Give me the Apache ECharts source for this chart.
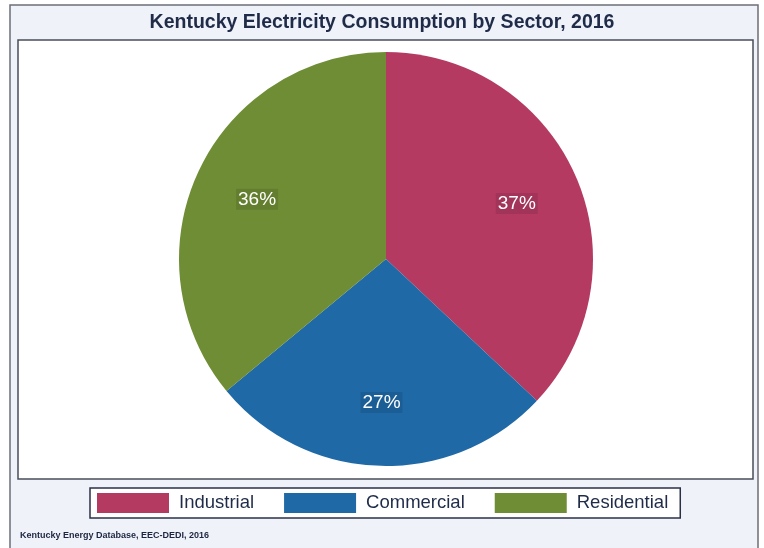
<!DOCTYPE html>
<html><head><meta charset="utf-8">
<script src="https://cdn.jsdelivr.net/npm/echarts@6/dist/echarts.min.js"></script>
<style>html,body{margin:0;padding:0;background:#fff}#c{width:764px;height:548px}</style>
</head><body><div id="c"></div>
<script>
const categories = ['Industrial', 'Commercial', 'Residential'];
const shares = [37, 27, 36];
const colors = ['#B43A62', '#1F69A6', '#6F8D35'];
const titleText = 'Kentucky Electricity Consumption by Sector, 2016';
const sourceText = 'Kentucky Energy Database, EEC-DEDI, 2016';

const chart = echarts.init(document.getElementById('c'), null, {renderer: 'canvas'});
const pieData = categories.map((n, i) => ({name: n, value: shares[i], itemStyle: {color: colors[i]}}));
chart.setOption({
  animation: false,
  backgroundColor: '#ffffff',
  graphic: [
    {type: 'rect', z: -10, shape: {x: 10, y: 5, width: 748, height: 550}, style: {fill: '#EFF3F9', stroke: '#6d6f78', lineWidth: 1.5}},
    {type: 'rect', z: -9, shape: {x: 18, y: 40, width: 735, height: 439}, style: {fill: '#ffffff', stroke: '#4a4d58', lineWidth: 1.5}},
    {type: 'text', left: 20, top: 531, style: {text: sourceText, font: 'bold 9px "Liberation Sans", Arial, sans-serif', fill: '#1d2540'}}
  ],
  title: {
    text: titleText, left: 'center', top: 8,
    textStyle: {fontFamily: '"Liberation Sans", Arial, sans-serif', fontSize: 19.5, fontWeight: 'bold', color: '#1f2b48'}
  },
  legend: {
    data: categories, left: 90, top: 488,
    orient: 'horizontal', itemWidth: 72, itemHeight: 20, itemGap: 30,
    padding: [5, 12, 5, 7], borderColor: '#2b3047', borderWidth: 1.5, backgroundColor: '#ffffff',
    icon: 'rect',
    textStyle: {fontFamily: '"Liberation Sans", Arial, sans-serif', fontSize: 18.5, color: '#1f2b48', padding: [0, 0, 0, 5]}
  },
  series: [
    {
      type: 'pie', center: [386, 259], radius: [0, 207], startAngle: 90, clockwise: true,
      label: {show: false}, labelLine: {show: false}, emphasis: {disabled: true},
      data: pieData
    },
    {
      type: 'pie', center: [386, 260], radius: [72, 207], startAngle: 90, clockwise: true, silent: true,
      itemStyle: {color: 'rgba(0,0,0,0)'}, legendHoverLink: false,
      label: {show: true, position: 'inside', formatter: p => shares[p.dataIndex] + '%',
        fontFamily: '"Liberation Sans", Arial, sans-serif', fontSize: 19, color: '#ffffff',
        backgroundColor: 'rgba(0,0,0,0.1)', padding: [1, 2]},
      labelLine: {show: false}, emphasis: {disabled: true},
      data: categories.map((n, i) => ({name: n + ' ', value: shares[i], itemStyle: {color: 'rgba(0,0,0,0)'}}))
    }
  ]
});
</script></body></html>
